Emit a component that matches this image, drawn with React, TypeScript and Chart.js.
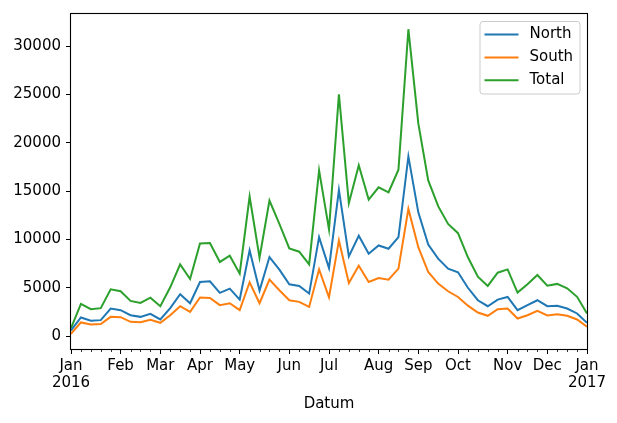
import React, { useEffect, useRef } from 'react';
import { Chart, registerables } from 'chart.js';

Chart.register(...registerables);

// Weekly periods of 2016 (index 0 = week containing 1 Jan 2016, 52 = week containing 1 Jan 2017)
const weeks = Array.from({ length: 53 }, (_, i) => i);
const monthWeeks = [0, 5, 9, 13, 17, 22, 26, 31, 35, 39, 44, 48, 52];
const monthLabels: (string | string[])[] = [
  ['Jan', '2016'], 'Feb', 'Mar', 'Apr', 'May', 'Jun', 'Jul', 'Aug', 'Sep', 'Oct', 'Nov', 'Dec', ['Jan', '2017'],
];
const yTicks = [0, 5000, 10000, 15000, 20000, 25000, 30000];

const north = [
  580, 1925, 1580, 1650, 2850, 2680, 2165, 1990, 2300, 1720,
  2900, 4330, 3400, 5600, 5670, 4470, 4910, 3780, 8870, 4710,
  8180, 6870, 5360, 5190, 4400, 10240, 7030, 15120, 8250, 10380,
  8520, 9380, 9040, 10240, 18590, 12800, 9480, 8010, 6970, 6600,
  5000, 3710, 3090, 3780, 4050, 2680, 3200, 3710, 3090, 3130,
  2850, 2340, 1370,
];
const south = [
  240, 1410, 1200, 1240, 1990, 1960, 1480, 1440, 1680, 1375,
  2150, 3090, 2510, 3990, 3950, 3200, 3400, 2680, 5570, 3400,
  5840, 4740, 3710, 3540, 3020, 6910, 4020, 9900, 5500, 7290,
  5600, 6010, 5840, 6980, 13160, 9200, 6630, 5430, 4640, 4050,
  3150, 2440, 2100, 2780, 2850, 1820, 2160, 2610, 2130, 2270,
  2100, 1720, 960,
];
const total = [
  820, 3330, 2780, 2890, 4840, 4640, 3645, 3430, 3980, 3095,
  5050, 7420, 5910, 9590, 9620, 7670, 8310, 6460, 14440, 8110,
  14020, 11610, 9070, 8730, 7420, 17150, 11050, 25020, 13750, 17670,
  14120, 15390, 14880, 17220, 31750, 22000, 16110, 13440, 11610, 10650,
  8150, 6150, 5190, 6560, 6900, 4500, 5360, 6320, 5220, 5400,
  4950, 4060, 2330,
];

const seriesNames = ['North', 'South', 'Total'];
const seriesColors = ['#1f77b4', '#ff7f0e', '#2ca02c'];
const seriesValues = [north, south, total];
const xTitle = 'Datum';

const FONT = '"DejaVu Sans", "Liberation Sans", sans-serif';

const allValues = [...north, ...south, ...total];
const dataMin = Math.min(...allValues);
const dataMax = Math.max(...allValues);
const margin = (dataMax - dataMin) * 0.05;

const decorPlugin = {
  id: 'decor',
  afterDraw(chart: any) {
    const ctx = chart.ctx as CanvasRenderingContext2D;
    const ca = chart.chartArea;
    const xs = chart.scales.x;
    ctx.save();
    // minor ticks on x axis
    ctx.strokeStyle = '#000';
    ctx.lineWidth = 0.8;
    weeks.forEach((w) => {
      if (monthWeeks.includes(w)) return;
      const px = Math.round(xs.getPixelForValue(w)) + 0.5;
      ctx.beginPath();
      ctx.moveTo(px, ca.bottom);
      ctx.lineTo(px, ca.bottom + 3);
      ctx.stroke();
    });
    // frame
    ctx.lineWidth = 1.1;
    ctx.strokeStyle = '#000';
    ctx.strokeRect(Math.round(ca.left) - 0.5, Math.round(ca.top) - 0.5,
      Math.round(ca.right - ca.left) + 1, Math.round(ca.bottom - ca.top) + 1);

    // legend
    const boxRight = ca.right - 7.5;
    const boxLeft = boxRight - 100;
    const boxTop = ca.top + 7;
    const boxH = 72.5;
    ctx.beginPath();
    if ((ctx as any).roundRect) {
      (ctx as any).roundRect(boxLeft + 0.5, boxTop + 0.5, 100, boxH, 3);
    } else {
      ctx.rect(boxLeft + 0.5, boxTop + 0.5, 100, boxH);
    }
    ctx.fillStyle = 'rgba(255,255,255,0.8)';
    ctx.fill();
    ctx.strokeStyle = '#cccccc';
    ctx.lineWidth = 1;
    ctx.stroke();
    ctx.font = '15px ' + FONT;
    ctx.textBaseline = 'middle';
    ctx.textAlign = 'left';
    chart.data.datasets.forEach((ds: any, i: number) => {
      const y = boxTop + 13.5 + i * 22.9;
      ctx.strokeStyle = ds.borderColor;
      ctx.lineWidth = 2;
      ctx.beginPath();
      ctx.moveTo(boxLeft + 5, y);
      ctx.lineTo(boxLeft + 39, y);
      ctx.stroke();
      ctx.fillStyle = '#000';
      ctx.fillText(ds.label, boxLeft + 50, y);
    });
    ctx.restore();
  },
};

export default function App() {
  const ref = useRef<HTMLCanvasElement>(null);
  useEffect(() => {
    if (!ref.current) return;
    const chart = new Chart(ref.current, {
      type: 'line',
      data: {
        datasets: seriesNames.map((name, si) => ({
          label: name,
          data: weeks.map((w, i) => ({ x: w, y: seriesValues[si][i] })),
          borderColor: seriesColors[si],
          backgroundColor: seriesColors[si],
          borderWidth: 2,
          pointRadius: 0,
          tension: 0,
          fill: false,
        })),
      },
      options: {
        animation: false,
        responsive: false,
        devicePixelRatio: 1,
        events: [],
        layout: { padding: { left: 0, right: 30, top: 13, bottom: 0 } },
        plugins: {
          legend: { display: false },
          tooltip: { enabled: false },
        },
        scales: {
          x: {
            type: 'linear',
            min: 0,
            max: 52,
            border: { display: false },
            grid: {
              drawOnChartArea: false,
              drawTicks: true,
              tickLength: 5,
              tickColor: '#000',
              tickWidth: 1,
            },
            afterBuildTicks: (scale: any) => {
              scale.ticks = monthWeeks.map((v) => ({ value: v }));
            },
            afterFit: (scale: any) => {
              scale.height = 74;
            },
            ticks: {
              autoSkip: false,
              maxRotation: 0,
              minRotation: 0,
              padding: 4,
              color: '#000',
              font: { family: FONT, size: 15, lineHeight: 1.1 },
              callback: (value: any) => {
                const idx = monthWeeks.indexOf(Number(value));
                return idx >= 0 ? monthLabels[idx] : '';
              },
            },
            title: {
              display: true,
              text: xTitle,
              color: '#000',
              font: { family: FONT, size: 15, lineHeight: 1.2 },
              padding: { top: 0, bottom: 10 },
            },
          },
          y: {
            type: 'linear',
            min: dataMin - margin,
            max: dataMax + margin,
            border: { display: false },
            grid: {
              drawOnChartArea: false,
              drawTicks: true,
              tickLength: 5,
              tickColor: '#000',
              tickWidth: 1,
            },
            afterBuildTicks: (scale: any) => {
              scale.ticks = yTicks.map((v) => ({ value: v }));
            },
            afterFit: (scale: any) => {
              scale.width = 71;
            },
            ticks: {
              padding: 5,
              color: '#000',
              font: { family: FONT, size: 15 },
              callback: (value: any) => String(value),
            },
          },
        },
      },
      plugins: [decorPlugin],
    } as any);
    return () => chart.destroy();
  }, []);

  return (
    <div style={{ position: 'fixed', left: 0, top: 0, width: 617, height: 423, background: '#fff' }}>
      <canvas ref={ref} width={617} height={423} style={{ display: 'block', width: 617, height: 423 }} />
    </div>
  );
}
